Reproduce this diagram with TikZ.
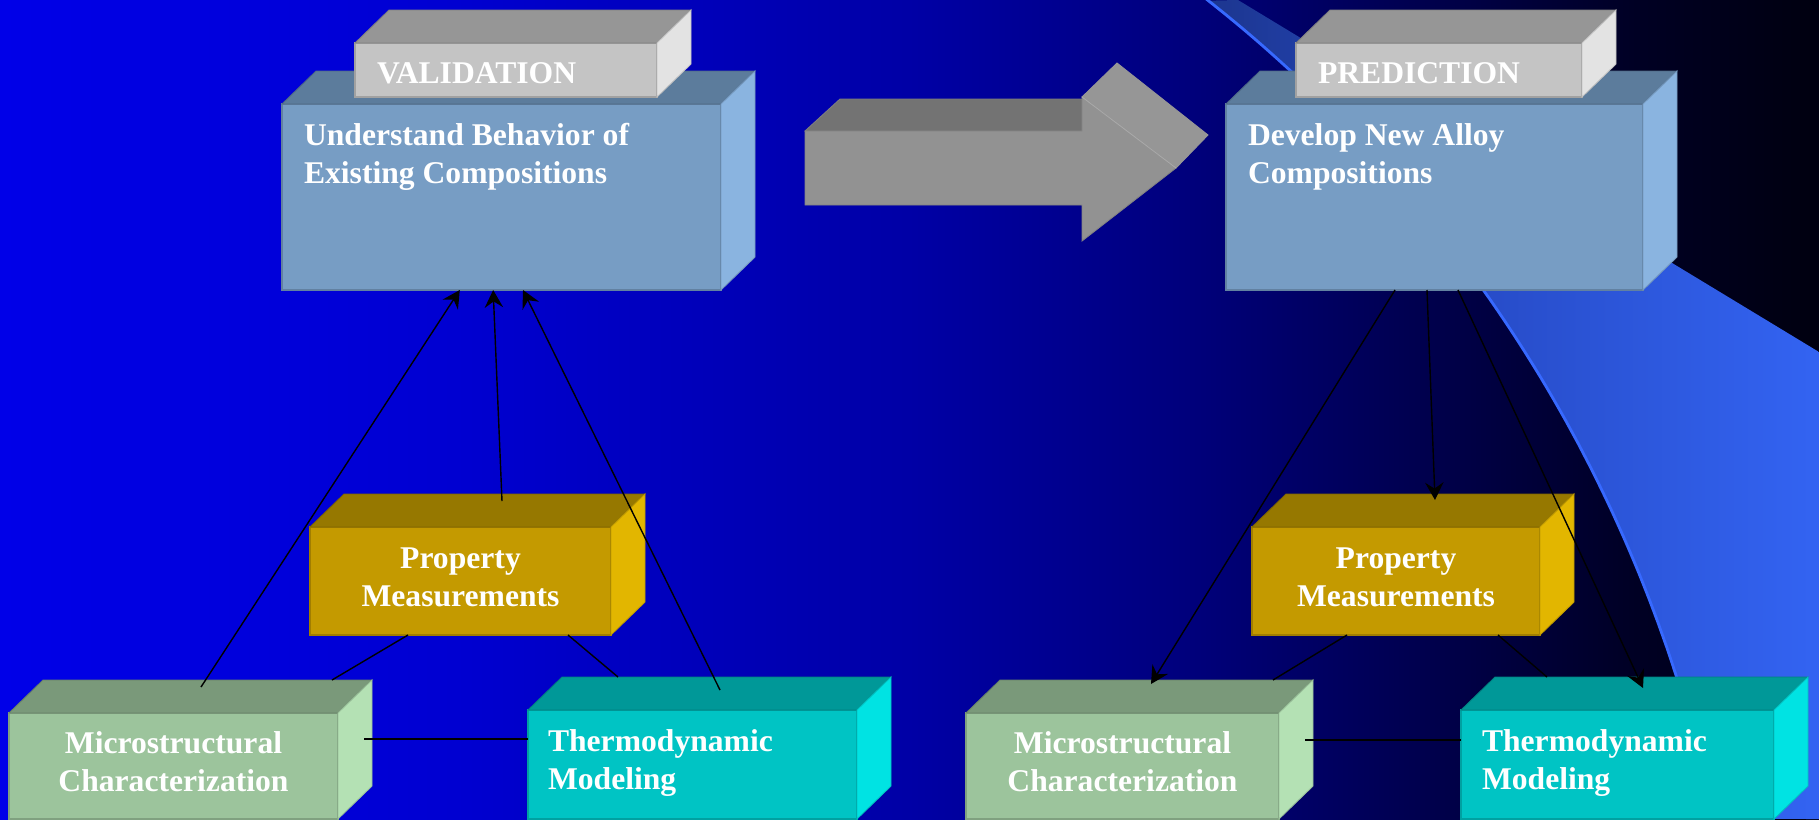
\documentclass[tikz,border=0pt]{standalone}
\usepackage{fontspec}
\setmainfont{Liberation Serif}
\usetikzlibrary{calc,arrows.meta}

% face colours of the solid blocks
\definecolor{valfront}{RGB}{196,196,196}
\definecolor{valtop}{RGB}{150,150,150}
\definecolor{valside}{RGB}{227,227,227}
\definecolor{bluefront}{RGB}{119,157,196}
\definecolor{bluetop}{RGB}{92,124,156}
\definecolor{blueside}{RGB}{138,180,224}
\definecolor{propfront}{RGB}{196,154,0}
\definecolor{proptop}{RGB}{150,120,0}
\definecolor{propside}{RGB}{226,182,0}
\definecolor{microfront}{RGB}{156,196,156}
\definecolor{microtop}{RGB}{122,153,122}
\definecolor{microside}{RGB}{180,225,180}
\definecolor{thermofront}{RGB}{0,196,196}
\definecolor{thermotop}{RGB}{0,152,152}
\definecolor{thermoside}{RGB}{0,227,227}
\definecolor{arrowfront}{RGB}{146,146,146}
\definecolor{arrowtop}{RGB}{115,115,115}
\definecolor{arrowhead}{RGB}{150,150,150}
\definecolor{archline}{RGB}{55,105,255}

% blue-to-black backdrop and the lighter sweeping band
\pgfdeclarehorizontalshading{backdrop}{100bp}{
  rgb(0bp)=(0,0,0.91);
  rgb(25bp)=(0,0,0.91);
  rgb(37.5bp)=(0,0,0.82);
  rgb(50bp)=(0,0,0.65);
  rgb(57.5bp)=(0,0,0.49);
  rgb(65bp)=(0,0,0.28);
  rgb(70bp)=(0,0,0.14);
  rgb(75bp)=(0,0,0.06);
  rgb(100bp)=(0,0,0.06)}
\pgfdeclarehorizontalshading{sweep}{100bp}{
  rgb(0bp)=(0.11,0.21,0.56);
  rgb(25bp)=(0.11,0.21,0.56);
  rgb(45bp)=(0.15,0.29,0.77);
  rgb(75bp)=(0.2,0.39,0.95);
  rgb(100bp)=(0.2,0.39,0.95)}

% solid block: front face as a named node, plus top and side faces
% #1 name, #2 left, #3 top, #4 right, #5 bottom, #6 colour prefix
\newcommand{\solidblock}[6]{%
  \node[face, fill=#6front, draw=#6front!82!black,
        minimum width={(#4-#2)*0.02cm}, minimum height={(#5-#3)*0.02cm},
        anchor=north west] (#1) at (#2,#3) {};
  \filldraw[fill=#6top, draw=#6top!85!black, line width=0.5pt]
    (#1.north west) -- ++(34,-33) -- ($(#1.north east)+(34,-33)$) -- (#1.north east) -- cycle;
  \filldraw[fill=#6side, draw=#6side!85!black, line width=0.5pt]
    (#1.north east) -- ++(34,-33) -- ($(#1.south east)+(34,-33)$) -- (#1.south east) -- cycle;
}

\tikzset{
  face/.style={rectangle, inner sep=0pt, outer sep=0pt, line width=0.6pt},
  lbl/.style={text=white, inner sep=0pt, outer sep=0pt,
              font=\fontsize{18pt}{21.5pt}\selectfont\bfseries},
  conn/.style={black, line width=0.8pt},
  arr/.style={conn, -{Stealth[length=10pt,width=10.5pt,inset=3.5pt]}},
  thick conn/.style={black, line width=1.2pt}
}

\begin{document}
\begin{tikzpicture}[x=0.02cm, y=-0.02cm]
\useasboundingbox (0,0) rectangle (1819,819);
\clip (0,0) rectangle (1819,819);

% backdrop
\shade[shading=backdrop] (0,0) rectangle (1819,819);
\shade[shading=sweep]
  plot[domain=51.7:11.7, samples=80] ({337+1406*cos(\x)},{1104-1406*sin(\x)})
  -- (1819,819) -- (1819,352) -- (1238,0) -- cycle;
\draw[archline, line width=1.6pt]
  plot[domain=53:11, samples=80] ({337+1406*cos(\x)},{1104-1406*sin(\x)});

% wide grey arrow between the two columns
\filldraw[fill=arrowtop, draw=arrowtop!92!white, line width=0.5pt]
  (805,131) -- (840,99) -- (1082,99) -- (1082,131) -- cycle;
\filldraw[fill=arrowhead, draw=arrowhead, line width=0.5pt]
  (1082,97) -- (1117,63) -- (1208,135) -- (1176,168) -- cycle;
\filldraw[fill=arrowfront, draw=arrowfront!90!black, line width=0.5pt]
  (805,131) -- (1082,131) -- (1082,97) -- (1176,168) -- (1082,241) -- (1082,205) -- (805,205) -- cycle;
\draw[arrowfront!80!white, line width=0.6pt] (1082,97) -- (1176,168);

% left column
\solidblock{blueL}{282}{104}{721}{290}{blue}
\solidblock{valL}{355}{43}{657}{97}{val}
\solidblock{propL}{310}{527}{611}{635}{prop}
\solidblock{microL}{9}{713}{338}{819}{micro}
\solidblock{thermoL}{528}{710}{857}{819}{thermo}

% right column
\solidblock{blueR}{1226}{104}{1643}{290}{blue}
\solidblock{valR}{1296}{43}{1582}{97}{val}
\solidblock{propR}{1252}{527}{1540}{635}{prop}
\solidblock{microR}{966}{713}{1279}{819}{micro}
\solidblock{thermoR}{1461}{710}{1774}{819}{thermo}

% labels (base anchors of two-line labels sit on the second line)
\node[lbl, anchor=base west] (tValL) at (377,83) {VALIDATION};
\node[lbl, anchor=base west] (tValR) at (1318,83) {PREDICTION};
\node[lbl, anchor=base west, align=left] (tBlueL) at (304,183)
  {Understand Behavior of\\Existing Compositions};
\node[lbl, anchor=base west, align=left] (tBlueR) at (1248,183)
  {Develop New Alloy\\Compositions};
\node[lbl, anchor=base, align=center] (tPropL) at (460.5,606) {Property\\Measurements};
\node[lbl, anchor=base, align=center] (tPropR) at (1396,606) {Property\\Measurements};
\node[lbl, anchor=base, align=center] (tMicroL) at (173.5,791) {Microstructural\\Characterization};
\node[lbl, anchor=base, align=center] (tMicroR) at (1122.5,791) {Microstructural\\Characterization};
\node[lbl, anchor=base west, align=left] (tThermoL) at (548,789) {Thermodynamic\\Modeling};
\node[lbl, anchor=base west, align=left] (tThermoR) at (1482,789) {Thermodynamic\\Modeling};

% connectors, left column: everything feeds the validation block
\draw[arr] ($(microL.north)+(27.5,-26)$) -- ($(blueL.south west)!0.405!(blueL.south east)$);
\draw[arr] ($(propL.north)+(41.5,-26)$) -- ($(blueL.south west)!0.481!(blueL.south east)$);
\draw[arr] ($(thermoL.north)+(27.5,-20)$) -- ($(blueL.south west)!0.549!(blueL.south east)$);
\draw[conn] ($(propL.south)+(-52.5,0)$) -- ($(microL.north east)+(-6,-33)$);
\draw[conn] ($(propL.south)+(107.5,0)$) -- ($(thermoL.north west)+(90,-33)$);
\draw[thick conn] ($(microL.north east)+(26,26)$) -- ($(thermoL.north west)+(0,29)$);

% connectors, right column: the prediction block drives everything
\draw[arr] ($(blueR.south)+(-39.5,0)$) -- ($(microR.north)+(28.5,-29)$);
\draw[arr] ($(blueR.south)+(-7.5,0)$) -- ($(propR.north)+(39,-27)$);
\draw[arr] ($(blueR.south)+(23.5,0)$) -- ($(thermoR.north)+(25.5,-22)$);
\draw[conn] ($(propR.south)+(-49,0)$) -- ($(microR.north east)+(-6,-33)$);
\draw[conn] ($(propR.south)+(102,0)$) -- ($(thermoR.north west)+(86,-33)$);
\draw[thick conn] ($(microR.north east)+(26,27)$) -- ($(thermoR.north west)+(0,30)$);
\end{tikzpicture}
\end{document}
